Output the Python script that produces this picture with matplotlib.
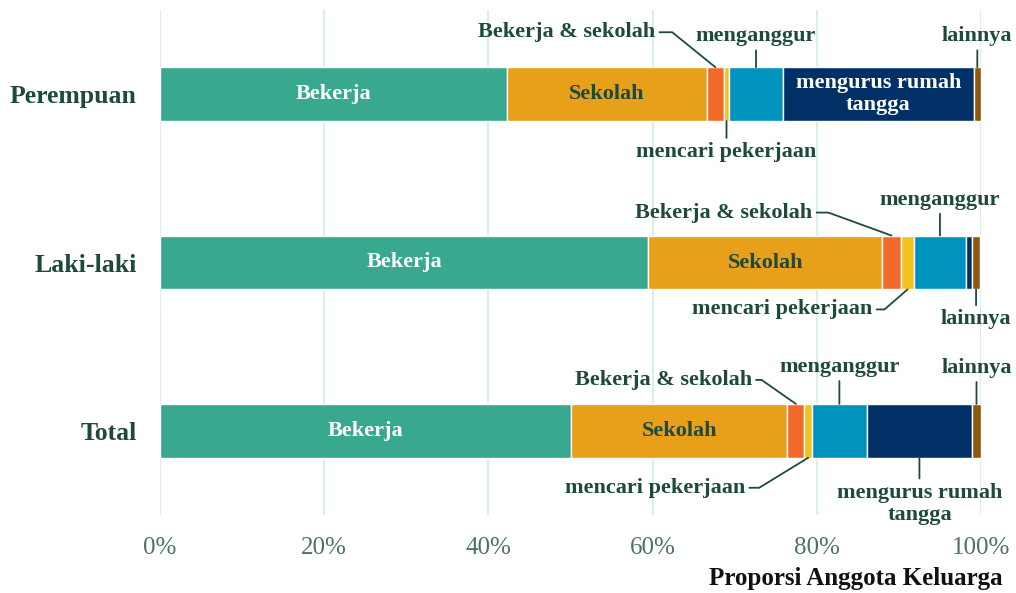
import matplotlib
matplotlib.use('Agg')
import matplotlib.pyplot as plt
import numpy as np

# data
kelompok = ['Perempuan', 'Laki-laki', 'Total']
kategori = ['Bekerja', 'Sekolah', 'Bekerja & sekolah', 'mencari pekerjaan',
            'menganggur', 'mengurus rumah tangga', 'lainnya']
bekerja = [42.3, 59.5, 50.1]
sekolah = [24.3, 28.4, 26.3]
bekerja_sekolah = [2.1, 2.4, 2.1]
mencari = [0.6, 1.5, 0.9]
menganggur = [6.6, 6.4, 6.7]
mengurus = [23.2, 0.7, 12.8]
lainnya = [0.9, 1.0, 1.1]
xticks = [0, 20, 40, 60, 80, 100]
xticklabels = ['0%', '20%', '40%', '60%', '80%', '100%']

warna = ['#38A98F', '#E89F1A', '#F26A2A', '#F2C21E', '#0093BD', '#003066', '#8B5A10']
teks_gelap = '#1E4A3E'

plt.rcParams['font.family'] = ['Liberation Serif', 'DejaVu Serif']

nilai = np.array([bekerja, sekolah, bekerja_sekolah, mencari, menganggur, mengurus, lainnya])
kiri = np.vstack([np.zeros(3), np.cumsum(nilai, axis=0)[:-1]])
pos = np.arange(len(kelompok))
tinggi = 0.32

fig = plt.figure(figsize=(10.16, 5.93), dpi=100)
ax = fig.add_axes([160 / 1016, 78 / 593, 821 / 1016, 505 / 593])

for i in range(len(kategori)):
    ax.barh(pos, nilai[i], left=kiri[i], height=tinggi, color=warna[i],
            edgecolor='white', linewidth=1, zorder=3)

ax.set_xlim(0, 100)
ax.set_ylim(2.5, -0.5)
ax.set_xticks(xticks)
ax.set_xticklabels(xticklabels)
ax.set_yticks(pos)
ax.set_yticklabels(kelompok, fontweight='bold', fontsize=18.5, color=teks_gelap)
ax.tick_params(axis='x', length=0, pad=16, labelsize=18, labelcolor='#4D7165')
ax.tick_params(axis='y', length=0, pad=17)
ax.grid(axis='x', color='#D3EEEC', linewidth=1.3, zorder=0)
ax.set_axisbelow(True)
for s in ax.spines.values():
    s.set_visible(False)

fig.text(1003 / 1016, 1 - 578 / 593, 'Proporsi Anggota Keluarga', ha='right', va='center',
         fontsize=18, fontweight='bold', color='#111111')


def tengah(r, k):
    return kiri[k][r] + nilai[k][r] / 2


# label di dalam batang
for r in range(3):
    ax.text(tengah(r, 0), pos[r], 'Bekerja', ha='center', va='center', color='white',
            fontsize=16, fontweight='bold', zorder=4)
    ax.text(tengah(r, 1), pos[r], 'Sekolah', ha='center', va='center', color=teks_gelap,
            fontsize=16, fontweight='bold', zorder=4)
ax.text(tengah(0, 5), pos[0], 'mengurus rumah\ntangga', ha='center', va='center',
        color='white', fontsize=16, fontweight='bold', linespacing=1.15, zorder=4)


def label(r, k, teks, dx, dy, ha='center', sudut=None, atas=True):
    y = pos[r] - tinggi / 2 if atas else pos[r] + tinggi / 2
    if sudut is None:
        cs = 'arc3'
    else:
        cs = 'angle,angleA=0,angleB=%s,rad=0' % sudut
    ax.annotate(teks, xy=(tengah(r, k), y), xytext=(dx, dy), textcoords='offset pixels',
                ha=ha, va='center', fontsize=16, fontweight='bold', color=teks_gelap,
                linespacing=1.15,
                arrowprops=dict(arrowstyle='-', color=teks_gelap, lw=1.3,
                                shrinkA=1, shrinkB=0, connectionstyle=cs),
                zorder=5)


# Perempuan
label(0, 2, 'Bekerja & sekolah', -60, 35, ha='right', sudut=141)
label(0, 4, 'menganggur', 0, 31)
label(0, 6, 'lainnya', 0, 31)
label(0, 3, 'mencari pekerjaan', 0, -31, atas=False)
# Laki-laki
label(1, 2, 'Bekerja & sekolah', -79, 23, ha='right', sudut=160)
label(1, 4, 'menganggur', 0, 36)
label(1, 3, 'mencari pekerjaan', -35, -20, ha='right', sudut=41, atas=False)
label(1, 6, 'lainnya', 0, -30, atas=False)
# Total
label(2, 2, 'Bekerja & sekolah', -44, 24, ha='right', sudut=145)
label(2, 4, 'menganggur', 0, 37)
label(2, 6, 'lainnya', 0, 36)
label(2, 3, 'mencari pekerjaan', -63, -30, ha='right', sudut=31.5, atas=False)
label(2, 5, 'mengurus rumah\ntangga', 0, -46, atas=False)

fig.savefig('out.png', dpi=100)
